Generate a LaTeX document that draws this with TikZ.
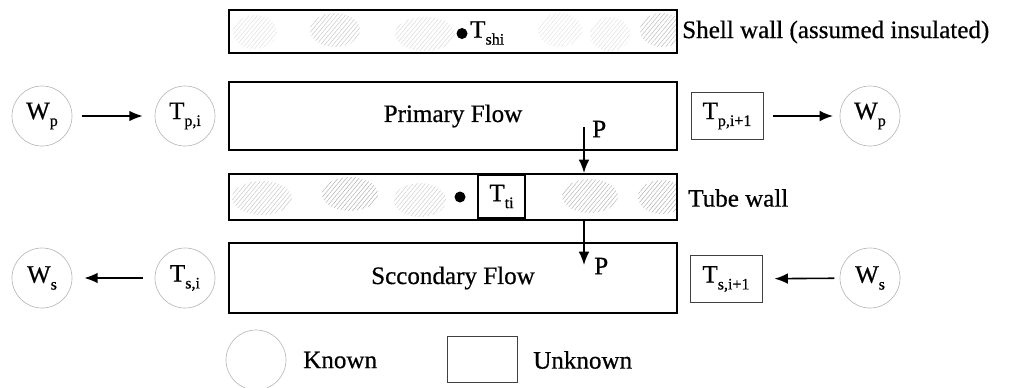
\documentclass[tikz,border=0pt]{standalone}
\usepackage{fontspec}
\setmainfont[FakeBold=0.6]{Liberation Serif}
\usetikzlibrary{arrows.meta,patterns.meta}

% lowered subscript for the variable names
\newcommand{\lsub}[1]{\raisebox{-0.6ex}{\fontsize{12}{12}\selectfont #1}}
% a patch of diagonal hatching inside a wall
\newcommand{\hpatch}[4]{%
  \fill[pattern={Lines[angle=50,distance=2.4pt,line width=0.35pt]},pattern color=#4]
    (#1,#2) ellipse [x radius=#3, y radius=17];}

\begin{document}
\begin{tikzpicture}[x=0.75pt,y=-0.75pt,
  font=\fontsize{18.8}{22}\selectfont,
  flowbox/.style={draw=black,line width=1.5pt,minimum width=336pt,inner sep=0pt},
  wallbox/.style={draw=black,line width=1.5pt,minimum width=336pt,inner sep=0pt},
  known/.style={circle,draw=gray!55,line width=0.5pt,minimum size=45pt,inner sep=0pt},
  unknown/.style={draw=black!75,line width=0.7pt,minimum width=54pt,minimum height=35pt,inner sep=0pt},
  arr/.style={line width=1.2pt,-{Latex[length=10pt,width=8pt]}},
  lbl/.style={anchor=west,inner sep=0pt}]
\useasboundingbox (0,0) rectangle (1024,387);

% ---- shell wall ----
\node[wallbox,minimum height=32.25pt] (shell) at (453,31.5) {};
\begin{scope}
  \clip (229,10) rectangle (677,53);
  \hpatch{255}{32}{22}{gray!25}
  \hpatch{335}{30}{25}{gray!45}
  \hpatch{425}{34}{30}{gray!30}
  \hpatch{560}{30}{22}{gray!22}
  \hpatch{610}{34}{20}{gray!25}
  \hpatch{662}{30}{22}{gray!55}
\end{scope}
\node[wallbox,minimum height=32.25pt] at (453,31.5) {};
\fill (462,33.5) coordinate (shdot) circle (5.5);
\node[anchor=west,inner sep=0pt] (tshi) at (470,33) {T\lsub{shi}};
\node[lbl] (shelltxt) at (682,32) {Shell wall (assumed insulated)};

% ---- primary flow ----
\node[flowbox,minimum height=51pt] (prim) at (453,116) {Primary Flow};
\node[known] (wpl) at (42,116) {W\lsub{p}};
\node[known] (tpi) at (185,116) {T\lsub{p,i}};
\node[unknown] (tpn) at (727,116) {T\lsub{p,i+1}};
\node[known] (wpr) at (870,116) {W\lsub{p}};
\draw[arr,shorten <=7pt,shorten >=9pt] (wpl) -- (tpi);
\draw[arr,shorten <=7pt,shorten >=5pt] (tpn) -- (wpr);

% ---- tube wall ----
\node[wallbox,minimum height=34.5pt] (tube) at (453,197) {};
\begin{scope}
  \clip (229,174) rectangle (677,220);
  \hpatch{262}{198}{30}{gray!45}
  \hpatch{350}{194}{28}{gray!65}
  \hpatch{420}{200}{26}{gray!40}
  \hpatch{590}{196}{28}{gray!60}
  \hpatch{662}{197}{24}{gray!65}
\end{scope}
\node[wallbox,minimum height=34.5pt] at (453,197) {};
\node[unknown,fill=white,draw=black,line width=1.3pt,minimum width=35pt,minimum height=32pt] (tti) at (501.5,196.5) {T\lsub{ti}};
\fill (460,197) coordinate (ttdot) circle (5.5);
\node[lbl] (tubetxt) at (688,198) {Tube wall};

% ---- heat flow through the tube wall ----
\coordinate (p1) at (584,127);
\coordinate (p2) at (584,265);
\draw[arr] (p1) -- (p1 |- tube.north);
\draw[arr] (p2 |- tube.south) -- (p2);
\node[lbl] (plabel1) at (592,129) {P};
\node[lbl] (plabel2) at (594,266) {P};

% ---- secondary flow ----
\node[flowbox,minimum height=52.5pt] (sec) at (453,278) {Sccondary Flow};
\node[known] (wsl) at (42,278) {W\lsub{s}};
\node[known] (tsi) at (185,278) {T\lsub{s,i}};
\node[unknown] (tsn) at (726,279) {T\lsub{s,i+1}};
\node[known] (wsr) at (870,278) {W\lsub{s}};
\draw[arr,shorten <=9pt,shorten >=9pt] (tsi) -- (wsl);
\draw[arr,shorten <=4pt,shorten >=9pt] (wsr) -- (tsn);

% ---- legend ----
\node[known] (legk) at (256,360) {};
\node[lbl] (legktxt) at (303,360) {Known};
\node[unknown,minimum height=34pt,minimum width=53pt] (legu) at (482.5,359.5) {};
\node[lbl] (legutxt) at (533,360) {Unknown};
\end{tikzpicture}
\end{document}
